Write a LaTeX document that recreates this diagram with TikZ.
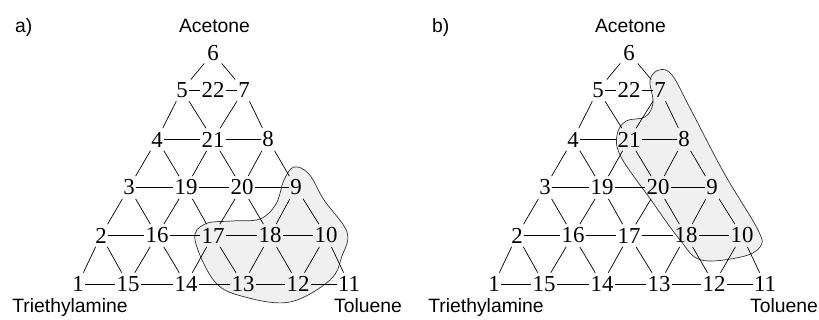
\documentclass[tikz,border=0pt]{standalone}
\usepackage{fontspec}
\setmainfont{Liberation Serif}
\setsansfont{Liberation Sans}
\tikzset{
  num/.style={font=\fontsize{19.5}{22}\selectfont, inner sep=0.8pt},
  compo/.style={font=\sffamily\fontsize{16.5}{20}\selectfont, inner sep=0pt, anchor=base},
  link/.style={line width=0.6pt},
  slope/.style={link, shorten <=2.5pt, shorten >=2.5pt},
  region/.style={fill=black!6, draw=black!80, line width=0.6pt},
}
\newcommand{\Num}[3]{\node[num] (#1) at (#2,#3) {#1};}
\newcommand{\Link}[2]{\draw[link] (#1) -- (#2);}
\newcommand{\Slope}[2]{\draw[slope] (#1) -- (#2);}
\newcommand{\Grid}{%
  \Num{6}{213}{53}
  \Num{5}{182}{90}    \Num{22}{213}{90}   \Num{7}{244}{90}
  \Num{4}{157}{139.5} \Num{21}{213}{139.5} \Num{8}{268}{139.5}
  \Num{3}{129}{187.5} \Num{19}{186}{187.5} \Num{20}{242}{187.5} \Num{9}{296}{187.5}
  \Num{2}{101}{235.5} \Num{16}{157}{235.5} \Num{17}{213}{235.5} \Num{18}{270}{235.5} \Num{10}{326}{235.5}
  \Num{1}{78}{284}    \Num{15}{128}{284}  \Num{14}{186}{284}  \Num{13}{243}{284}  \Num{12}{298}{284}  \Num{11}{349}{284}
  % rows
  \Link{1}{15} \Link{15}{14} \Link{14}{13} \Link{13}{12} \Link{12}{11}
  \Link{2}{16} \Link{16}{17} \Link{17}{18} \Link{18}{10}
  \Link{3}{19} \Link{19}{20} \Link{20}{9}
  \Link{4}{21} \Link{21}{8}
  \Link{5}{22} \Link{22}{7}
  % slopes
  \Slope{1}{2} \Slope{15}{2} \Slope{15}{16} \Slope{14}{16} \Slope{14}{17}
  \Slope{13}{17} \Slope{13}{18} \Slope{12}{18} \Slope{12}{10} \Slope{11}{10}
  \Slope{2}{3} \Slope{16}{3} \Slope{16}{19} \Slope{17}{19} \Slope{17}{20}
  \Slope{18}{20} \Slope{18}{9} \Slope{10}{9}
  \Slope{3}{4} \Slope{19}{4} \Slope{19}{21} \Slope{20}{21} \Slope{20}{8} \Slope{9}{8}
  \Slope{4}{5} \Slope{21}{5} \Slope{21}{7} \Slope{8}{7}
  \Slope{5}{6} \Slope{7}{6}
  % corners
  \node[compo] (ace) at (214.5,33) {Acetone};
  \node[compo] (tea) at (70,312) {Triethylamine};
  \node[compo] (tol) at (368,312) {Toluene};
}

\begin{document}
\begin{tikzpicture}[x=0.03cm, y=-0.03cm]
\useasboundingbox (0,0) rectangle (819,320);

% a)
\begin{scope}[name prefix=a-]
  \draw[region] plot[smooth cycle, tension=0.6] coordinates {
    (294,167) (309,174) (324,200) (347,232) (342,256) (330,280) (290,302)
    (245,297) (215,282) (195,240) (205,224) (232,221) (260,219) (276,204) (284,180)};
  \node[compo, anchor=base west] (tag) at (15,33) {a)};
  \Grid
\end{scope}

% b)
\begin{scope}[shift={(416,0)}, name prefix=b-]
  \draw[region] plot[smooth cycle, tension=0.6] coordinates {
    (243,70) (256,75) (275,110) (308,173) (342,230) (344,247) (325,257)
    (285,260) (264,240) (235,200) (205,157) (201,135) (210,121) (229,117)
    (237,103) (234,80)};
  \node[compo, anchor=base west] (tag) at (16,33) {b)};
  \Grid
\end{scope}
\end{tikzpicture}
\end{document}
